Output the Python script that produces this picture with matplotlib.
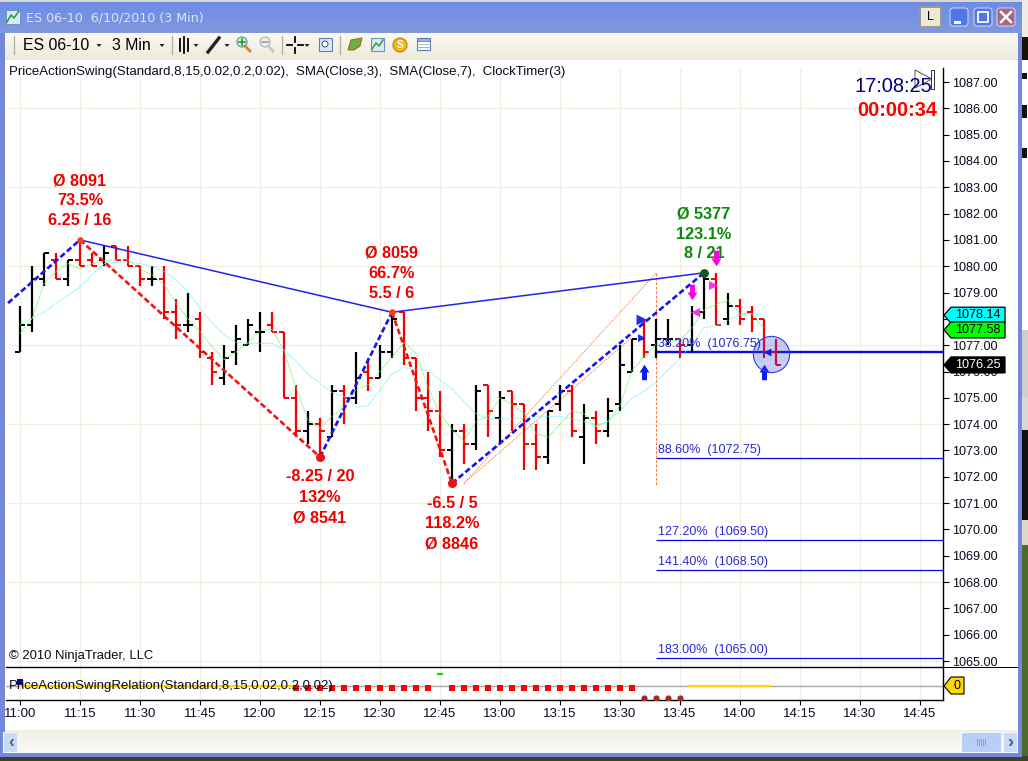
import numpy as np
import matplotlib
matplotlib.use("Agg")
import matplotlib.pyplot as plt
from matplotlib.patches import Rectangle, Polygon, Circle, FancyBboxPatch
from matplotlib.path import Path

plt.rcParams["font.family"] = ["Liberation Sans", "DejaVu Sans"]

# ---------------------------------------------------------
# DATA, one bar every 3 minutes from 11:00
# ---------------------------------------------------------
opens = [1076.75, 1077.75, 1079.5, 1080.25, 1079.5, 1080.25, 1080.25, 1080.25, 1080.75, 1080.25,
         1080, 1079.5, 1079.5, 1078.25, 1077.75, 1078, 1076.5, 1075.75, 1076.75, 1077,
         1077.5, 1077.75, 1077.5, 1075, 1073.75, 1074, 1073.5, 1075.25, 1075, 1076,
         1075.75, 1076.75, 1078.25, 1076.5, 1075, 1074.5, 1073, 1073.75, 1073.25, 1075.5,
         1074.25, 1075.25, 1074.75, 1073.25, 1072.75, 1074.75, 1075.25, 1073.5, 1074.25, 1073.75,
         1074.75, 1076, 1077.25, 1077, 1077.25, 1077.25, 1077, 1078.25, 1079.5, 1078,
         1078.5, 1078.25, 1078, 1076.75]
highs = [1078.5, 1080, 1080.5, 1080.5, 1080.25, 1081, 1080.5, 1080.75, 1080.75, 1080.75,
         1080, 1080, 1080, 1078.75, 1079, 1078.25, 1076.75, 1077, 1077.75, 1078,
         1078.25, 1078.25, 1077.5, 1075.5, 1074.5, 1074.25, 1075.5, 1075.5, 1076.75, 1076.5,
         1077, 1078.25, 1078.25, 1076.5, 1076, 1075.25, 1074, 1074, 1075.5, 1075.5,
         1075.25, 1075.25, 1074.75, 1074, 1074.5, 1075.5, 1075.5, 1074.75, 1074.5, 1075,
         1077, 1077.25, 1078, 1078, 1078, 1077.25, 1078.5, 1079.75, 1079.75, 1079,
         1078.75, 1078.5, 1078, 1077.25]
lows = [1076.75, 1077.5, 1079.25, 1079.5, 1079.25, 1080, 1080, 1080, 1080.25, 1080,
        1079.25, 1079.25, 1078, 1077.25, 1077.5, 1076.5, 1075.5, 1075.5, 1076.25, 1077,
        1076.75, 1077.5, 1075, 1073.5, 1073.25, 1072.75, 1073.5, 1074, 1074.75, 1075.25,
        1075.75, 1076.5, 1076.25, 1074.5, 1073.75, 1072.75, 1071.75, 1072.5, 1073, 1073.5,
        1073.25, 1073.75, 1072.25, 1072.25, 1072.5, 1074.5, 1073.5, 1072.5, 1073.25, 1073.5,
        1074.5, 1076, 1076.5, 1076.5, 1077, 1076.5, 1076.75, 1078, 1077.75, 1077.75,
        1077.75, 1077.5, 1076.5, 1076.25]
closes = [1077.75, 1079.5, 1080.5, 1079.5, 1080.25, 1080, 1080, 1080.5, 1080.25, 1080,
          1079.5, 1079.5, 1078.25, 1077.75, 1077.75, 1076.75, 1076, 1076.5, 1077.25, 1077.75,
          1077.5, 1077.5, 1075, 1073.75, 1074, 1073.75, 1075.25, 1075, 1075.75, 1075.75,
          1076.75, 1078, 1076.5, 1075, 1074.5, 1073, 1073.75, 1073.25, 1075.25, 1074.5,
          1075, 1074.75, 1073.25, 1072.75, 1074.5, 1075.25, 1073.75, 1074.25, 1073.75, 1074.5,
          1076.25, 1077.25, 1076.75, 1077.25, 1077.25, 1077, 1078.25, 1079.5, 1077.75, 1078.5,
          1078, 1078, 1076.75, 1076.25]

sma3 = [1077.45, 1078, 1079.35, 1079.8, 1080.1, 1079.9, 1080.1, 1080.2, 1080.25, 1080.25,
        1079.9, 1079.67, 1079.3, 1078.6, 1078, 1077.5, 1076.95, 1076.45, 1076.75, 1077.1,
        1077.55, 1077.6, 1076.8, 1075.4, 1074.15, 1073.85, 1074.3, 1074.65, 1075.3, 1075.5,
        1076, 1076.55, 1077.1, 1076.7, 1075.4, 1074.4, 1073.8, 1073.35, 1074.1, 1074.3,
        1075, 1074.75, 1074.4, 1073.65, 1073.5, 1074, 1074.5, 1074.4, 1073.9, 1074.1,
        1074.7, 1076.05, 1076.55, 1077.05, 1077.15, 1077.2, 1077.65, 1078.35, 1078.55, 1078.7,
        1078.2, 1078.2, 1077.65]
sma7 = [1077.77, 1078.05, 1078.25, 1078.6, 1078.9, 1079.2, 1079.67, 1080.1, 1080.15, 1080.15,
        1080.1, 1080, 1079.8, 1079.5, 1079.03, 1078.4, 1077.83, 1077.4, 1077.1, 1077.07,
        1077.07, 1077.07, 1076.8, 1076.4, 1075.9, 1075.55, 1075.2, 1075.05, 1074.65, 1074.7,
        1075.3, 1075.9, 1076.15, 1076.08, 1076.05, 1075.68, 1075.35, 1074.85, 1074.4, 1074.2,
        1074.2, 1074.2, 1074.25, 1074.3, 1074.3, 1074.3, 1074.2, 1074.1, 1073.95, 1074.1,
        1074.5, 1075, 1075.25, 1075.6, 1076.05, 1076.5, 1077.05, 1077.67, 1077.72, 1077.95,
        1078.15, 1078.2, 1078.15]

# swing points
swing_x = [-1, 5, 25, 31, 36, 57]
swing_y = [1078.6, 1081, 1072.75, 1078.25, 1071.75, 1079.75]
swing_high_x = [5, 31, 57]
swing_high_y = [1081, 1078.25, 1079.75]

fib_labels = ["38.20%  (1076.75)", "88.60%  (1072.75)", "127.20%  (1069.50)",
              "141.40%  (1068.50)", "183.00%  (1065.00)"]
fib_prices = [1076.75, 1072.72, 1069.6, 1068.46, 1065.1]

swing_text_x = [5, 31, 25, 36, 57]
swing_text_y = [[1083.24, 1082.48, 1081.72], [1080.5, 1079.74, 1078.98],
                [1072.0, 1071.23, 1070.43], [1070.97, 1070.21, 1069.45],
                [1082.0, 1081.22, 1080.47]]
swing_text = [["Ø 8091", "73.5%", "6.25 / 16"], ["Ø 8059", "66.7%", "5.5 / 6"],
              ["-8.25 / 20", "132%", "Ø 8541"], ["-6.5 / 5", "118.2%", "Ø 8846"],
              ["Ø 5377", "123.1%", "8 / 21"]]

time_labels = ["11:00", "11:15", "11:30", "11:45", "12:00", "12:15", "12:30", "12:45", "13:00",
               "13:15", "13:30", "13:45", "14:00", "14:15", "14:30", "14:45"]
price_ticks = list(range(1065, 1088))

# lower panel
red_bars = [23, 24, 25, 26, 27, 28, 29, 30, 31, 32, 33, 34, 36, 37, 38, 39, 40, 41, 42, 43,
            44, 45, 46, 47, 48, 49, 50, 51]
brown_bars = [52, 53, 54, 55]

W, H = 1028, 761
TEXT = "#0A0A1E"
GRID = "#F2EFE0"


def px_axes(fig, zorder):
    a = fig.add_axes([0, 0, 1, 1], zorder=zorder)
    a.set_xlim(0, W)
    a.set_ylim(H, 0)
    a.axis("off")
    a.patch.set_alpha(0)
    return a


def gradient(a, x0, x1, y0, y1, c0, c1):
    c0 = np.array(matplotlib.colors.to_rgb(c0))
    c1 = np.array(matplotlib.colors.to_rgb(c1))
    t = np.linspace(0, 1, 32)[:, None, None]
    img = c0[None, None, :] * (1 - t) + c1[None, None, :] * t
    a.imshow(img, extent=[x0, x1, y1, y0], aspect="auto", zorder=1)
    a.set_xlim(0, W)
    a.set_ylim(H, 0)


fig = plt.figure(figsize=(W / 100, H / 100), dpi=100, facecolor="#E4E1D4")

# ---------------------------------------------------------
# WINDOW BACKGROUND
# ---------------------------------------------------------
bg = px_axes(fig, 0)
bg.add_patch(Rectangle((0, 0), W, 3, fc="#DAD8CC", ec="none"))
for x0, y0, y1, c in [(1022, 0, 37, "#EFEDE2"), (1022, 37, 60, "#1A1208"), (1022, 60, 330, "white"),
                      (1022, 330, 397, "#CFCFCF"), (1022, 397, 430, "#D8D8D8"),
                      (1022, 430, 520, "#111111"), (1022, 520, 545, "#DCD9C8"),
                      (1022, 545, 761, "#4B6A2C")]:
    bg.add_patch(Rectangle((x0, y0), W - x0, y1 - y0, fc=c, ec="none"))
for y0, y1 in [(73, 79), (105, 118), (148, 158)]:
    bg.add_patch(Rectangle((1022, y0), 5, y1 - y0, fc="#111111", ec="none"))
bg.add_patch(Rectangle((0, 756), W, 5, fc="#3B4030", ec="none"))
gradient(bg, 0, 1022, 2, 33, "#6C8CE6", "#8198DE")
bg.add_patch(Rectangle((0, 33), 1022, 724, fc="#7488DA", ec="none", zorder=1))
bg.add_patch(Rectangle((5, 33), 1013, 700, fc="white", ec="none", zorder=2))
gradient(bg, 5, 1018, 33, 60, "#FBFAF3", "#EDEADB")
bg.images[-1].set_zorder(3)
gradient(bg, 5, 1018, 730, 753, "#F1EFE5", "#FBFAF5")
bg.images[-1].set_zorder(3)

# ---------------------------------------------------------
# PRICE PANEL
# ---------------------------------------------------------
ax = fig.add_axes([6 / W, (H - 667) / H, 937 / W, 599 / H], zorder=2)
ax.patch.set_alpha(0)
ax.set_xlim(-1.167, 76.92)
ax.set_ylim(1064.773, 1087.532)
for s in ["top", "bottom", "left"]:
    ax.spines[s].set_visible(False)
ax.spines["right"].set_linewidth(1.0)

x_idx = np.arange(0, 80, 5)
ax.set_xticks(x_idx)
ax.tick_params(axis="x", length=0, labelbottom=False)
ax.yaxis.tick_right()
ax.set_yticks(price_ticks)
ax.set_yticklabels([f"{v:.2f}" for v in price_ticks], fontsize=9.1, color=TEXT)
ax.tick_params(axis="y", length=4.3, width=0.8, pad=2.5)
ax.vlines(x_idx, 1064.773, 1087.532, color=GRID, lw=0.9, zorder=0)
ax.hlines(price_ticks[::3], -1.0, 76.92, color=GRID, lw=0.9, zorder=0)

# fib levels and guide lines
for i, (lab, p) in enumerate(zip(fib_labels, fib_prices)):
    ax.plot([53, 76.92], [p, p], color="#0A0AE6", lw=1.7 if i == 0 else 0.9, zorder=1,
            solid_capstyle="butt")
    ax.text(53.2, p + 0.08, lab, color="#2A2AD8", fontsize=9, va="bottom", ha="left", zorder=6)

ax.plot([37, 53], [1071.75, 1079.74], color="#F47A4A", lw=0.8, ls=(0, (1, 1.2)), zorder=2)
ax.plot([37, 51], [1071.75, 1077.3], color="#F47A4A", lw=0.8, ls=(0, (1, 1.2)), zorder=2)
ax.plot([53, 53], [1079.74, 1071.7], color="#F47A4A", lw=0.8, ls=(0, (2.5, 1.5)), zorder=2)

# OHLC bars
for i, (o, h, l, c) in enumerate(zip(opens, highs, lows, closes)):
    col = "black" if c >= o else "#F00000"
    ax.plot([i, i], [l, h], color=col, lw=1.6, zorder=3, solid_capstyle="butt")
    ax.plot([i - 0.45, i], [o, o], color=col, lw=1.4, zorder=3, solid_capstyle="butt")
    ax.plot([i, i + 0.45], [c, c], color=col, lw=1.4, zorder=3, solid_capstyle="butt")

ax.plot(np.arange(len(sma3)), sma3, color="#60F060", lw=0.7, ls=(0, (1, 0.8)), zorder=4)
ax.plot(np.arange(len(sma7)), sma7, color="#60F0F0", lw=0.7, ls=(0, (1, 0.8)), zorder=4)

# swing lines
ax.plot(swing_high_x, swing_high_y, color="#2222EE", lw=1.1, zorder=4)
for k in range(len(swing_x) - 1):
    col = "#1414F0" if swing_y[k + 1] > swing_y[k] else "#F01414"
    ax.plot(swing_x[k:k + 2], swing_y[k:k + 2], color=col, lw=1.9, ls=(0, (2.2, 1.1)), zorder=5)
ax.scatter([5, 31], [1081, 1078.25], s=22, color="#F04010", zorder=6, linewidths=0)
ax.scatter([25, 36], [1072.75, 1071.75], s=42, color="#F01010", marker="o", zorder=6, linewidths=0)
ax.scatter([57], [1079.75], s=40, color="#0A5A20", marker="o", zorder=6, linewidths=0)

# entry / signal markers
arrow = Path([(-0.16, -0.5), (0.16, -0.5), (0.16, 0), (0.32, 0), (0, 0.5), (-0.32, 0), (-0.16, 0),
              (-0.16, -0.5)], closed=True)
arrow_down = Path(arrow.vertices * [1, -1], closed=True)
ax.scatter([52, 62], [1075.98, 1075.98], marker=arrow, s=125, color="#0A1EF0", zorder=7, linewidths=0)
ax.scatter([56, 58], [1079.02, 1080.31], marker=arrow_down, s=125, color="#FF00E0", zorder=7, linewidths=0)
ax.scatter([51.83, 51.83], [1077.96, 1077.27], marker=">", s=[60, 32], color="#2030E0", zorder=7, linewidths=0)
ax.scatter([56.25], [1078.26], marker="<", s=42, color="#FF30E8", zorder=7, linewidths=0)
ax.scatter([57.75], [1079.29], marker=">", s=42, color="#FF30E8", zorder=7, linewidths=0)
ax.scatter([62.25], [1076.74], marker="<", s=32, color="#1420C0", zorder=8, linewidths=0)
ax.scatter([62.56], [1076.67], s=680, facecolor=(0.2, 0.27, 0.88, 0.28), edgecolor="#3040E0",
           linewidths=0.8, zorder=7)

# swing statistics
for x, ys, labels in zip(swing_text_x, swing_text_y, swing_text):
    col = "#0A8A0A" if x == 57 else "#F00000"
    for y, t in zip(ys, labels):
        ax.text(x, y, t, color=col, fontsize=11.7, fontweight="bold", ha="center", va="center", zorder=6)

# ---------------------------------------------------------
# LOWER PANEL
# ---------------------------------------------------------
low = fig.add_axes([6 / W, (H - 700) / H, 937 / W, 33 / H], zorder=2)
low.patch.set_alpha(0)
low.set_xlim(-1.167, 76.92)
low.set_ylim(-1.167, 1.583)
low.spines["left"].set_visible(False)
low.spines["top"].set_linewidth(1.0)
low.spines["bottom"].set_linewidth(1.0)
low.spines["right"].set_linewidth(1.0)
low.set_yticks([])
low.set_xticks(x_idx)
low.set_xticklabels(time_labels, fontsize=9.5, color=TEXT)
low.tick_params(axis="x", length=3.6, width=0.8, pad=2.5)
low.vlines(x_idx, -1.167, 1.583, color=GRID, lw=0.9, zorder=0)
low.axhline(0, color="#A8A8A8", lw=1.0, zorder=1)
low.plot([0, 23], [0, 0], color="#FFD700", lw=1.6, zorder=2, solid_capstyle="butt")
low.plot([55.6, 62.6], [0, 0], color="#FFD700", lw=1.6, zorder=2, solid_capstyle="butt")
low.scatter(red_bars, [-0.2] * len(red_bars), marker="s", s=15, color="#FF0000", linewidths=0, zorder=3)
low.scatter(brown_bars, [-1.0] * len(brown_bars), marker="o", s=20, color="#A52A2A", linewidths=0, zorder=3)
low.scatter([0], [0.33], marker="s", s=15, color="#0000F0", linewidths=0, zorder=3)
low.scatter([35], [1.0], marker="_", s=20, color="#00E000", linewidths=1.6, zorder=3)

# ---------------------------------------------------------
# CHROME ON TOP
# ---------------------------------------------------------
top = px_axes(fig, 5)
top.add_patch(Rectangle((943, 667), 75, 1, fc="black", ec="none"))
top.add_patch(Rectangle((6, 667), 937, 1, fc="black", ec="none"))

top.text(26, 18, "ES 06-10  6/10/2010 (3 Min)", color="#DDE3F5", fontsize=9.1, va="center", family="DejaVu Sans")
top.text(23, 45.5, "ES 06-10", color="black", fontsize=11.4, va="center")
top.text(112, 45.5, "3 Min", color="black", fontsize=11.4, va="center")
top.text(9, 72, "PriceActionSwing(Standard,8,15,0.02,0.2,0.02),  SMA(Close,3),  SMA(Close,7),  ClockTimer(3)",
         color=TEXT, fontsize=9.5, va="center")
top.text(9, 656, "© 2010 NinjaTrader, LLC", color=TEXT, fontsize=9.4, va="center")
top.text(9, 686, "PriceActionSwingRelation(Standard,8,15,0.02,0.2,0.02)", color=TEXT, fontsize=9.5, va="center")
top.text(855, 86, "17:08:25", color="#000080", fontsize=14.4, va="center")
top.text(857, 111, "00:00:34", color="#FF0000", fontsize=14.4, fontweight="bold", va="center")

# small play symbol next to the clock
top.add_patch(Polygon([(915, 70), (915, 88), (932, 79)], closed=True, fc=(1, 1, 1, 0), ec="#555555", lw=0.7))
top.add_patch(Rectangle((931, 70), 3, 19, fc="white", ec="#333333", lw=0.7))


def price_tag(val, fc, tc):
    py = H - ax.transData.transform((0, val))[1]
    top.add_patch(Polygon([(944, py), (951, py - 8), (1005, py - 8), (1005, py + 8), (951, py + 8)],
                          closed=True, fc=fc, ec="black", lw=0.9, zorder=4))
    top.text(978, py, f"{val:.2f}", color=tc, fontsize=9.1, ha="center", va="center", zorder=5)


price_tag(1078.14, "#00FFFF", "black")
price_tag(1077.58, "#00FF00", "black")
price_tag(1076.25, "black", "white")
top.add_patch(Polygon([(944, 686), (951, 677), (964, 677), (964, 694), (951, 694)], closed=True,
                      fc="#FFD700", ec="black", lw=0.8, zorder=4))
top.text(957, 686, "0", color="black", fontsize=9, ha="center", va="center", zorder=5)

# window buttons
top.add_patch(Rectangle((920, 7), 21, 20, fc="#ECE9D8", ec="#9A9A8A", lw=1.4))
top.text(930.5, 17, "L", color="black", fontsize=9, ha="center", va="center")
for x0, col in [(949, "#4F76E4"), (973, "#4F76E4"), (996, "#A8677F")]:
    top.add_patch(FancyBboxPatch((x0 + 1, 8), 18, 18, boxstyle="round,pad=0,rounding_size=3", fc=col,
                                 ec="#C6D2F2", lw=0.8))
top.add_patch(Rectangle((954, 21), 7, 3, fc="white", ec="none"))
top.add_patch(Rectangle((978, 12), 10, 10, fc="none", ec="white", lw=1.3))
top.plot([1001, 1011], [12, 22], color="white", lw=1.8)
top.plot([1011, 1001], [12, 22], color="white", lw=1.8)

# scroll bar
top.add_patch(Rectangle((3, 732), 14, 20, fc="#C9DAF7", ec="#F2F5FC", lw=0.8))
top.text(8, 742, "‹", color="#4E5F8E", fontsize=13, fontweight="bold", ha="left", va="center")
top.add_patch(Rectangle((961, 732), 40, 20, fc="#B9CEF6", ec="#F2F5FC", lw=0.8))
top.add_patch(Rectangle((1003, 732), 14, 20, fc="#C9DAF7", ec="#F2F5FC", lw=0.8))
top.text(1007, 742, "›", color="#4E5F8E", fontsize=13, fontweight="bold", ha="left", va="center")
for x0 in [977, 979, 981, 983, 985]:
    top.plot([x0, x0], [739, 745], color="#7F95C9", lw=0.6)

# toolbar icons, roughly
for x0 in [14, 172, 282, 340]:
    top.plot([x0, x0], [36, 54], color="#B0AE9E", lw=0.9)
for x0 in [99, 162, 196, 227, 307]:
    top.add_patch(Polygon([(x0 - 2.5, 44), (x0 + 2.5, 44), (x0, 47)], closed=True, fc="#222222", ec="none"))
for x0, y0, y1 in [(180, 39, 51), (184, 37, 53), (188, 39, 51)]:
    top.plot([x0, x0], [y0, y1], color="black", lw=1.3)
top.plot([208, 219], [52, 38], color="#222222", lw=2.4)
top.add_patch(Circle((242, 42), 5, fc="#DDF1DD", ec="#6FA0C8", lw=1))
top.plot([245, 250], [46, 51], color="#C88A3A", lw=2)
top.plot([239, 245], [42, 42], color="#20A020", lw=1.2)
top.plot([242, 242], [39, 45], color="#20A020", lw=1.2)
top.add_patch(Circle((265, 42), 5, fc="#EEEEEE", ec="#BBBBBB", lw=1))
top.plot([268, 273], [46, 51], color="#C4C4C4", lw=2)
top.plot([262, 268], [42, 42], color="#A0A0A0", lw=1.2)
top.plot([287, 292], [45, 45], color="black", lw=1.3)
top.plot([298, 303], [45, 45], color="black", lw=1.3)
top.plot([295, 295], [37, 42], color="black", lw=1.3)
top.plot([295, 295], [48, 53], color="black", lw=1.3)
top.add_patch(Rectangle((319, 38), 13, 13, fc="#DCE8F8", ec="#5E7FB8", lw=0.8))
top.add_patch(Circle((325, 44), 3, fc="white", ec="#405070", lw=0.7))
top.add_patch(Polygon([(348, 50), (351, 40), (362, 38), (360, 46), (354, 50)], closed=True, fc="#70B040", ec="#A07020", lw=0.8))
top.add_patch(Rectangle((371, 38), 13, 13, fc="#DCE8F8", ec="#7890B8", lw=0.8))
top.plot([372, 376, 379, 383], [49, 43, 46, 40], color="#30A030", lw=1.1)
top.add_patch(Circle((400, 45), 7, fc="#F2B818", ec="#C08010", lw=0.8))
top.text(400, 45, "S", color="white", fontsize=7, fontweight="bold", ha="center", va="center")
top.add_patch(Rectangle((417, 38), 13, 12, fc="white", ec="#5E7FB8", lw=0.8))
top.add_patch(Rectangle((417, 38), 13, 3, fc="#9AB0E0", ec="#5E7FB8", lw=0.6))
for y0 in [44, 47]:
    top.plot([417, 430], [y0, y0], color="#9AA8C8", lw=0.6)
# title icon
top.add_patch(Rectangle((6, 10), 14, 14, fc="#DCE8F8", ec="#6F8FC8", lw=0.7))
top.plot([7, 11, 14, 19], [22, 15, 18, 11], color="#2FA040", lw=1.2)

fig.savefig("out.png", dpi=100, facecolor=fig.get_facecolor())
